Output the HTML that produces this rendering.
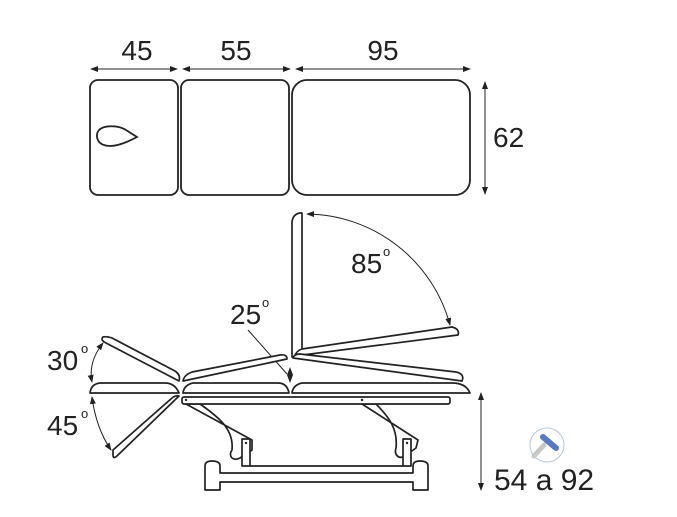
<!DOCTYPE html>
<html><head><meta charset="utf-8"><style>
html,body{margin:0;padding:0;background:#fff;}
svg{display:block;}
text{font-family:"Liberation Sans",sans-serif;fill:#222;}
</style></head><body>
<svg width="677" height="517" viewBox="0 0 677 517" xmlns="http://www.w3.org/2000/svg">
<defs>
<marker id="a" markerWidth="8" markerHeight="6" refX="7" refY="3" orient="auto-start-reverse" markerUnits="userSpaceOnUse"><path d="M0,0 L8,3 L0,6 z" fill="#222"/></marker>
</defs>
<g fill="none" stroke="#222" stroke-width="1.8">
<rect x="90" y="80" width="88" height="115" rx="8"/>
<rect x="181" y="80" width="108" height="115" rx="8"/>
<rect x="292" y="80" width="178" height="115" rx="15"/>
<path d="M137,137 L126,130 C118,125 104,125 99,130 C95,135 97,143 104,145 C112,148 124,144 137,137 Z"/>
</g>
<g stroke="#222" stroke-width="1" fill="none">
<line x1="91" y1="69" x2="177" y2="69" marker-start="url(#a)" marker-end="url(#a)"/>
<line x1="183" y1="69" x2="290" y2="69" marker-start="url(#a)" marker-end="url(#a)"/>
<line x1="296" y1="69" x2="470" y2="69" marker-start="url(#a)" marker-end="url(#a)"/>
<line x1="485" y1="82" x2="485" y2="194" marker-start="url(#a)" marker-end="url(#a)"/>
<line x1="481" y1="393" x2="481" y2="490" marker-start="url(#a)" marker-end="url(#a)"/>
<path d="M307,214 A150,150 0 0 1 450,325" marker-start="url(#a)" marker-end="url(#a)"/>
<path d="M103,343 Q88,362 92,382" marker-start="url(#a)" marker-end="url(#a)"/>
<path d="M92,397 Q96,428 111,450" marker-start="url(#a)" marker-end="url(#a)"/>
<line x1="290" y1="368" x2="290" y2="382" marker-start="url(#a)" marker-end="url(#a)"/>
<line x1="248" y1="330" x2="287" y2="374"/>
</g>
<g font-size="28">
<text x="137" y="60" text-anchor="middle">45</text>
<text x="236" y="60" text-anchor="middle">55</text>
<text x="383" y="60" text-anchor="middle">95</text>
<text x="493" y="147">62</text>
<text x="351" y="273">85</text><text x="383" y="256" font-size="13">o</text>
<text x="230" y="324">25</text><text x="262" y="307" font-size="13">o</text>
<text x="47" y="370">30</text><text x="81" y="353" font-size="13">o</text>
<text x="47" y="435">45</text><text x="81" y="418" font-size="13">o</text>
<text x="494" y="490" font-size="30">54 a 92</text>
</g>
<g fill="#fff" stroke="#222" stroke-width="1.7" stroke-linejoin="round">
<path d="M186,404 L252,440 L252,450 L240,458 C232,462 228,455 232,450 C234,430 220,418 200,404 Z"/>
<path d="M362,404 L418,440 L416,448 L405,456 C398,460 394,454 396,448 C398,430 390,418 376,404 Z"/>
<rect x="242" y="439" width="8" height="27"/>
<rect x="403" y="439" width="8" height="27"/>
<line x1="250" y1="466" x2="403" y2="466"/>
<path d="M205,490 L205,466 Q205,461 212,461 Q220,461 220,466 L220,473 L413,473 L413,466 Q413,461 420,461 Q428,461 428,466 L428,490 L413,490 L413,482 L220,482 L220,490 Z"/>
<rect x="182" y="397" width="268" height="7" rx="2"/>
<path d="M90,393 L179,393 Q175,383 165,383 L100,383 Q91,384 90,393 Z"/>
<path d="M183,393 L289,393 Q287,383 278,383 L193,383 Q184,385 183,393 Z"/>
<path d="M292,393 L470,393 Q466,383 452,383 L302,383 Q293,385 292,393 Z"/>
<path d="M179,381 L106,343 Q100,340 103,337 Q107,336 112,338 L175,371 Q181,375 179,381 Z"/>
<path d="M179,396 L118,455 Q113,460 113,455 L113,450 L172,398 Q176,395 179,396 Z"/>
<path d="M183,381 L287,359 Q287,354 280,355 L192,372 Q184,375 183,381 Z"/>
<path d="M292,357 L292,222 Q293,214 300,213 L302,213 L302,357 Z"/>
<path d="M295,356 L458,335 Q460,329 452,327 L302,349 Q296,351 295,356 Z"/>
<path d="M293,358 L462,381 Q465,374 456,372 L300,354 Q294,354 293,358 Z"/>
</g>
<g fill="#222">
<circle cx="186" cy="400" r="1.2"/><circle cx="362" cy="400" r="1.2"/>
<circle cx="246" cy="443" r="1.2"/><circle cx="407" cy="443" r="1.2"/>
</g>
<circle cx="547" cy="445" r="17" fill="none" stroke="#b8c4dc" stroke-width="1"/>
<line x1="544" y1="445" x2="534" y2="456" stroke="#c8c8c8" stroke-width="5" stroke-linecap="round"/>
<line x1="543" y1="437" x2="556" y2="448" stroke="#5b78c0" stroke-width="6" stroke-linecap="round"/>
</svg>
</body></html>
